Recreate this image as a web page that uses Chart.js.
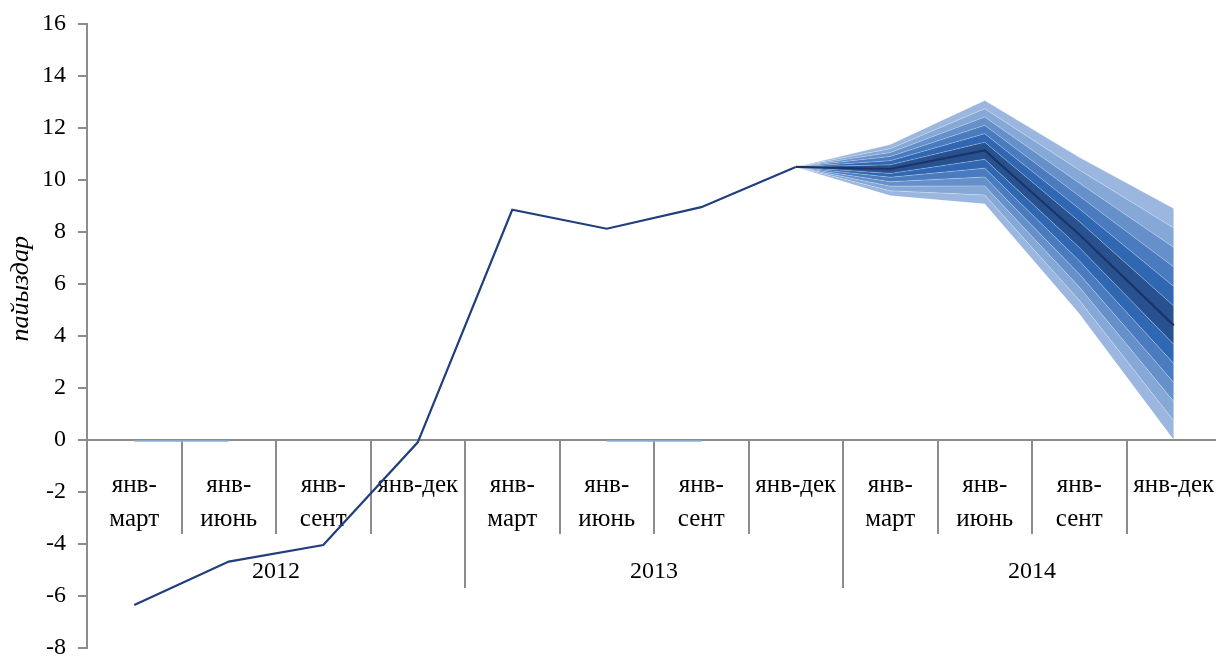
<!DOCTYPE html>
<html>
<head>
<meta charset="utf-8">
<script src="https://cdn.jsdelivr.net/npm/chart.js@4"></script>
<style>
  html, body { margin: 0; padding: 0; background: #ffffff; overflow: hidden; }
  #wrap { width: 1216px; height: 656px; overflow: hidden; }
</style>
</head>
<body>
<div id="wrap"><canvas id="c" width="1222" height="668"></canvas></div>
<script>
// ---------- data ----------
const categories = [
  ['янв-', 'март'], ['янв-', 'июнь'], ['янв-', 'сент'], 'янв-дек',
  ['янв-', 'март'], ['янв-', 'июнь'], ['янв-', 'сент'], 'янв-дек',
  ['янв-', 'март'], ['янв-', 'июнь'], ['янв-', 'сент'], 'янв-дек'
];
const years = ['2012', '2013', '2014'];
const yTitle = 'пайыздар';

const actual   = [-6.36, -4.69, -4.05, -0.1, 8.85, 8.12, 8.95, 10.5, null, null, null, null];
const zeroBits = [-0.05, -0.05, null, null, null, -0.05, -0.05, null, null, null, null, null];

// fan chart (index 7 = start, 8..11 forecast)
const fanCenter = [null, null, null, null, null, null, null, 10.5, 10.42, 11.13, 7.90, 4.40];
const upper1 = [null, null, null, null, null, null, null, 10.5, 10.58, 11.45, 8.40, 5.15];
const upper2 = [null, null, null, null, null, null, null, 10.5, 10.74, 11.78, 8.89, 5.90];
const upper3 = [null, null, null, null, null, null, null, 10.5, 10.90, 12.10, 9.38, 6.65];
const upper4 = [null, null, null, null, null, null, null, 10.5, 11.05, 12.42, 9.88, 7.40];
const upper5 = [null, null, null, null, null, null, null, 10.5, 11.20, 12.74, 10.38, 8.15];
const upper6 = [null, null, null, null, null, null, null, 10.5, 11.36, 13.06, 10.87, 8.90];
const lower1 = [null, null, null, null, null, null, null, 10.5, 10.25, 10.79, 7.40, 3.67];
const lower2 = [null, null, null, null, null, null, null, 10.5, 10.10, 10.45, 6.89, 2.93];
const lower3 = [null, null, null, null, null, null, null, 10.5, 9.93, 10.11, 6.38, 2.20];
const lower4 = [null, null, null, null, null, null, null, 10.5, 9.76, 9.77, 5.88, 1.47];
const lower5 = [null, null, null, null, null, null, null, 10.5, 9.58, 9.42, 5.37, 0.73];
const lower6 = [null, null, null, null, null, null, null, 10.5, 9.40, 9.08, 4.86, 0.00];

const yMin = -8, yMax = 16, yStep = 2;

// ---------- styles ----------
const bandColors = ['#28528f', '#2f67b2', '#4a7bbf', '#6690ca', '#86a8d7', '#9bb7df']; // inner -> outer
const axisGray = '#8c8c8c';
const FONT = 'Liberation Serif';
const sepColor = 'rgba(255,255,255,0.35)';

function band(data, target, color) {
  return {
    data: data, fill: target, backgroundColor: color,
    borderColor: sepColor, borderWidth: 0.8,
    pointRadius: 0, tension: 0, spanGaps: false
  };
}

const datasets = [
  { data: actual, borderColor: '#203f7c', borderWidth: 2.2, pointRadius: 0, tension: 0, fill: false },
  { data: fanCenter, borderColor: '#1b3366', borderWidth: 2.2, pointRadius: 0, tension: 0, fill: false },
  { data: zeroBits, borderColor: '#8fb0da', borderWidth: 1.5, pointRadius: 0, tension: 0, fill: false },
  { data: lower6, borderWidth: 0, pointRadius: 0, tension: 0, fill: false },     // 3
  band(lower5, 3, bandColors[5]),   // 4
  band(lower4, 4, bandColors[4]),   // 5
  band(lower3, 5, bandColors[3]),   // 6
  band(lower2, 6, bandColors[2]),   // 7
  band(lower1, 7, bandColors[1]),   // 8
  band(fanCenter, 8, bandColors[0]),// 9
  band(upper1, 9, bandColors[0]),   // 10
  band(upper2, 10, bandColors[1]),  // 11
  band(upper3, 11, bandColors[2]),  // 12
  band(upper4, 12, bandColors[3]),  // 13
  band(upper5, 13, bandColors[4]),  // 14
  band(upper6, 14, bandColors[5])   // 15
];

const yTitlePlugin = {
  id: 'yTitle',
  afterDraw(chart) {
    const ctx = chart.ctx;
    const ys = chart.scales.y;
    ctx.save();
    ctx.translate(21, ys.getPixelForValue(6) + 5);
    ctx.rotate(-Math.PI / 2);
    ctx.textAlign = 'center';
    ctx.textBaseline = 'middle';
    ctx.fillStyle = '#000000';
    ctx.font = 'italic 26px "' + FONT + '"';
    ctx.fillText(yTitle, 0, 0);
    ctx.restore();
  }
};

new Chart(document.getElementById('c'), {
  type: 'line',
  data: { labels: categories, datasets: datasets },
  plugins: [yTitlePlugin],
  options: {
    responsive: false,
    animation: false,
    layout: { padding: { left: 0, top: 24, right: 1, bottom: 9 } },
    plugins: { legend: { display: false }, tooltip: { enabled: false } },
    scales: {
      y: {
        min: yMin, max: yMax,
        afterFit(scale) { scale.width = 87; },
        ticks: { stepSize: yStep, color: '#000', padding: 12,
                 font: { family: FONT, size: 24, lineHeight: 0.7 } },
        grid: { drawOnChartArea: false, drawTicks: true, tickLength: 9, color: axisGray, lineWidth: 2 },
        border: { display: true, color: axisGray, width: 2 }
      },
      x: {
        position: { y: 0 },
        offset: true,
        ticks: { color: '#000', padding: -65, autoSkip: false, maxRotation: 0, minRotation: 0,
                 font: { family: FONT, size: 25, lineHeight: 1.38 } },
        grid: { offset: true, drawOnChartArea: false, drawTicks: true, tickLength: 93, color: axisGray, lineWidth: 2 },
        border: { display: true, color: axisGray, width: 2 }
      },
      x2: {
        type: 'category',
        labels: years,
        position: { y: 0 },
        offset: true,
        ticks: { color: '#000', padding: -33, autoSkip: false, maxRotation: 0, minRotation: 0,
                 font: { family: FONT, size: 24, lineHeight: 1.42 } },
        grid: { offset: true, drawOnChartArea: false, drawTicks: true, tickLength: 148, color: axisGray, lineWidth: 2 },
        border: { display: false }
      }
    }
  }
});
</script>
</body>
</html>
